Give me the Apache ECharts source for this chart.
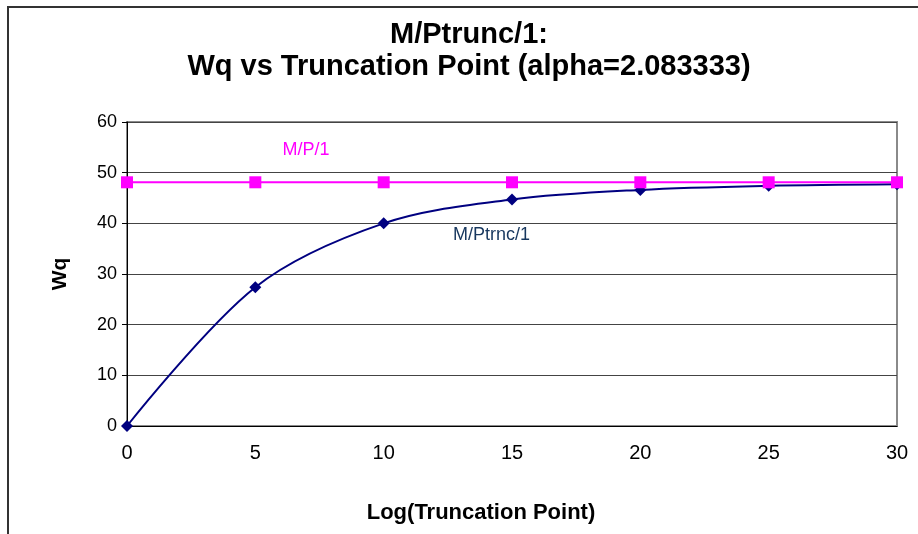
<!DOCTYPE html>
<html>
<head>
<meta charset="utf-8">
<script src="https://cdn.jsdelivr.net/npm/echarts@6/dist/echarts.min.js"></script>
<style>
html,body{margin:0;padding:0;background:#fff;}
#chart{width:918px;height:534px;}
</style>
</head>
<body>
<div id="chart"></div>
<script>
const titleLines = ['M/Ptrunc/1:', 'Wq vs Truncation Point (alpha=2.083333)'];
const xName = 'Log(Truncation Point)';
const yName = 'Wq';
const truncX = [0, 5, 10, 15, 20, 25, 30];
const truncWq = [0, 27.4, 40.0, 44.7, 46.6, 47.4, 47.7];
const mp1X = [0, 5, 10, 15, 20, 25, 30];
const mp1Wq = [48.1, 48.1, 48.1, 48.1, 48.1, 48.1, 48.1];
const truncLabel = 'M/Ptrnc/1';
const mp1Label = 'M/P/1';

const font = "'Liberation Sans', Arial, Helvetica, sans-serif";
const chart = echarts.init(document.getElementById('chart'));
chart.setOption({
  animation: false,
  backgroundColor: '#fff',
  title: {
    text: titleLines.join('\n'),
    left: 464, textAlign: 'center',
    top: 14,
    textStyle: { fontFamily: font, fontSize: 29, fontWeight: 'bold', color: '#000', lineHeight: 32 }
  },
  grid: {
    left: 127, right: 21, top: 122, bottom: 108,
    show: true, borderColor: '#8a8a8a', borderWidth: 2, backgroundColor: 'transparent'
  },
  xAxis: {
    type: 'value', min: 0, max: 30, interval: 5,
    name: xName, nameLocation: 'middle', nameGap: 76,
    nameTextStyle: { fontFamily: font, fontSize: 22, fontWeight: 'bold', color: '#000', padding: [0, 62, 0, 0] },
    axisLine: { show: true, onZero: false, lineStyle: { color: '#000', width: 1 } },
    axisTick: { show: false },
    axisLabel: { fontFamily: font, fontSize: 20, color: '#000', margin: 17 },
    splitLine: { show: false }
  },
  yAxis: {
    type: 'value', min: 0, max: 60, interval: 10,
    name: yName, nameLocation: 'middle', nameGap: 56, nameRotate: 90,
    nameTextStyle: { fontFamily: font, fontSize: 21, fontWeight: 'bold', color: '#000' },
    axisLine: { show: true, lineStyle: { color: '#000', width: 1 } },
    axisTick: { show: true, length: 5, lineStyle: { color: '#000' } },
    axisLabel: { fontFamily: font, fontSize: 18, color: '#000', margin: 10 },
    splitLine: { show: true, lineStyle: { color: '#444', width: 1 } }
  },
  series: [{
    name: truncLabel,
    type: 'line',
    data: truncX.map((x, i) => [x, truncWq[i]]),
    smooth: 0.33,
    symbol: 'diamond', symbolSize: 12,
    lineStyle: { color: '#000080', width: 2 },
    itemStyle: { color: '#000080' },
    z: 2
  }, {
    name: mp1Label,
    type: 'line',
    data: mp1X.map((x, i) => [x, mp1Wq[i]]),
    symbol: 'rect', symbolSize: 12,
    lineStyle: { color: '#ff00ff', width: 2 },
    itemStyle: { color: '#ff00ff' },
    z: 3
  }]
});
// series labels placed in data coordinates
const p1 = chart.convertToPixel({ gridIndex: 0 }, [6.97, 54.4]);
const p2 = chart.convertToPixel({ gridIndex: 0 }, [14.2, 37.6]);
chart.setOption({
  graphic: [{
    type: 'rect',
    shape: { x: 8, y: 7, width: 1000, height: 1000 },
    style: { fill: 'none', stroke: '#333', lineWidth: 2 },
    silent: true
  }, {
    type: 'text', x: p1[0], y: p1[1],
    style: { text: mp1Label, fill: '#ff00ff', font: "18px " + font, textAlign: 'center', textVerticalAlign: 'middle' }
  }, {
    type: 'text', x: p2[0], y: p2[1],
    style: { text: truncLabel, fill: '#17375e', font: "18px " + font, textAlign: 'center', textVerticalAlign: 'middle' }
  }]
});
</script>
</body>
</html>
